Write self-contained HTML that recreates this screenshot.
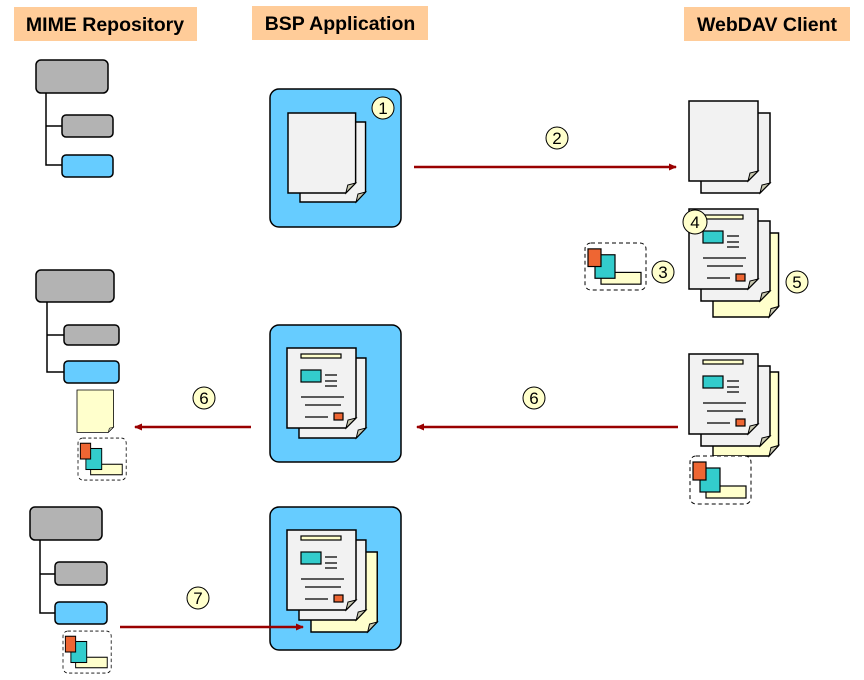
<!DOCTYPE html>
<html><head><meta charset="utf-8"><style>
body{margin:0;background:#fff}
svg{display:block}
text{font-family:"Liberation Sans",sans-serif}
</style></head><body>
<svg width="864" height="680" viewBox="0 0 864 680" xmlns="http://www.w3.org/2000/svg">
<defs>
<g id="plain">
<path d="M0,0H69V70L59,80H0Z" fill="#f2f2f2" stroke="#000" stroke-width="1.5"/>
<path d="M59,80L61,72L69,70Z" fill="#c8c8b0" stroke="#000" stroke-width="1"/>
</g>
<g id="plainY">
<path d="M0,0H69V70L59,80H0Z" fill="#ffffcc" stroke="#000" stroke-width="1.5"/>
<path d="M59,80L61,72L69,70Z" fill="#c8c8b0" stroke="#000" stroke-width="1"/>
</g>
<g id="rich">
<use href="#plain"/>
<rect x="14" y="6" width="40" height="4" fill="#ffffcc" stroke="#000" stroke-width="1.2"/>
<rect x="14" y="22" width="20" height="12" fill="#33cccc" stroke="#000" stroke-width="1.2"/>
<path d="M38,27H50M38,33H50M38,38H50M14,49H57M18,57H54M18,69H41" stroke="#000" stroke-width="1.3"/>
<rect x="47" y="65" width="9" height="7" fill="#ee6633" stroke="#000" stroke-width="1.2"/>
</g>
<g id="att">
<rect x="0" y="0" width="61" height="48" rx="6" fill="#fff" stroke="#000" stroke-width="1" stroke-dasharray="4,3"/>
<rect x="16" y="30" width="40" height="12" fill="#ffffcc" stroke="#000" stroke-width="1.2"/>
<rect x="10" y="12" width="20" height="24" fill="#33cccc" stroke="#000" stroke-width="1.2"/>
<rect x="3" y="6" width="13" height="18" fill="#ee6633" stroke="#000" stroke-width="1.2"/>
</g>
<marker id="ah" markerWidth="10" markerHeight="10" refX="7" refY="5" orient="auto" markerUnits="userSpaceOnUse">
<path d="M0,1.5L8,5L0,8.5Z" fill="#990000"/>
</marker>
</defs>

<!-- headers -->
<rect x="14" y="7" width="183" height="34" fill="#ffcc99"/>
<text x="105" y="31" font-size="19.5" font-weight="bold" text-anchor="middle">MIME Repository</text>
<rect x="252" y="6" width="176" height="34" fill="#ffcc99"/>
<text x="340" y="30" font-size="19.5" font-weight="bold" text-anchor="middle">BSP Application</text>
<rect x="684" y="7" width="166" height="34" fill="#ffcc99"/>
<text x="767" y="31" font-size="19.5" font-weight="bold" text-anchor="middle">WebDAV Client</text>

<g stroke="#000" stroke-width="1.5">
<path d="M46,93V165H62M46,126H62" fill="none"/>
<rect x="36" y="60" width="72" height="33" rx="5" fill="#b3b3b3"/>
<rect x="62" y="115" width="51" height="22" rx="4" fill="#b3b3b3"/>
<rect x="62" y="155" width="51" height="22" rx="4" fill="#66ccff"/>
<path d="M47,302V372H64M47,335H64" fill="none"/>
<rect x="36" y="270" width="78" height="32" rx="5" fill="#b3b3b3"/>
<rect x="64" y="325" width="55" height="20" rx="4" fill="#b3b3b3"/>
<rect x="64" y="361" width="55" height="22" rx="4" fill="#66ccff"/>
<path d="M40,540V613H55M40,574H55" fill="none"/>
<rect x="30" y="507" width="72" height="33" rx="5" fill="#b3b3b3"/>
<rect x="55" y="562" width="52" height="23" rx="4" fill="#b3b3b3"/>
<rect x="55" y="602" width="52" height="22" rx="4" fill="#66ccff"/>
<rect x="270" y="89" width="131" height="138" rx="9" fill="#66ccff"/>
<rect x="270" y="325" width="131" height="137" rx="9" fill="#66ccff"/>
<rect x="270" y="507" width="131" height="143" rx="9" fill="#66ccff"/>
</g>

<g transform="translate(77,390) scale(0.53,0.53)"><use href="#plainY"/></g>
<use href="#att" transform="translate(78,438) scale(0.79,0.875)"/>
<use href="#att" transform="translate(63,631) scale(0.79,0.875)"/>

<use href="#plain" transform="translate(300,122) scale(0.95,1)"/>
<use href="#plain" transform="translate(288,113) scale(0.98,1)"/>
<use href="#plain" transform="translate(299,358) scale(0.97,1)"/>
<use href="#rich" transform="translate(287,348)"/>
<use href="#plainY" transform="translate(311,552) scale(0.96,1)"/>
<use href="#plain" transform="translate(299,540) scale(0.97,1)"/>
<use href="#rich" transform="translate(287,530)"/>

<use href="#plain" transform="translate(701,113)"/>
<use href="#plain" transform="translate(689,101)"/>
<use href="#plainY" transform="translate(713,233) scale(0.95,1.05)"/>
<use href="#plain" transform="translate(701,221)"/>
<use href="#rich" transform="translate(689,209)"/>
<use href="#att" transform="translate(585,243) scale(1,0.98)"/>
<use href="#plainY" transform="translate(713,372) scale(0.95,1.05)"/>
<use href="#plain" transform="translate(701,366)"/>
<use href="#rich" transform="translate(689,354)"/>
<use href="#att" transform="translate(690,456)"/>

<g stroke="#990000" stroke-width="2.5" fill="none">
<path d="M414,167H676" marker-end="url(#ah)"/>
<path d="M678,427H417" marker-end="url(#ah)"/>
<path d="M251,427H135" marker-end="url(#ah)"/>
<path d="M120,627H303" marker-end="url(#ah)"/>
</g>

<g fill="#ffffcc" stroke="#000" stroke-width="1">
<circle cx="383" cy="108" r="11"/>
<circle cx="557" cy="138" r="11"/>
<circle cx="695" cy="222" r="12"/>
<circle cx="663" cy="272" r="11"/>
<circle cx="797" cy="282" r="11"/>
<circle cx="534" cy="398" r="11"/>
<circle cx="204" cy="398" r="11"/>
<circle cx="198" cy="598" r="11"/>
</g>
<g font-size="17" text-anchor="middle">
<text x="383" y="114">1</text>
<text x="557" y="144">2</text>
<text x="695" y="228">4</text>
<text x="663" y="278">3</text>
<text x="797" y="288">5</text>
<text x="534" y="404">6</text>
<text x="204" y="404">6</text>
<text x="198" y="604">7</text>
</g>
</svg>
</body></html>
